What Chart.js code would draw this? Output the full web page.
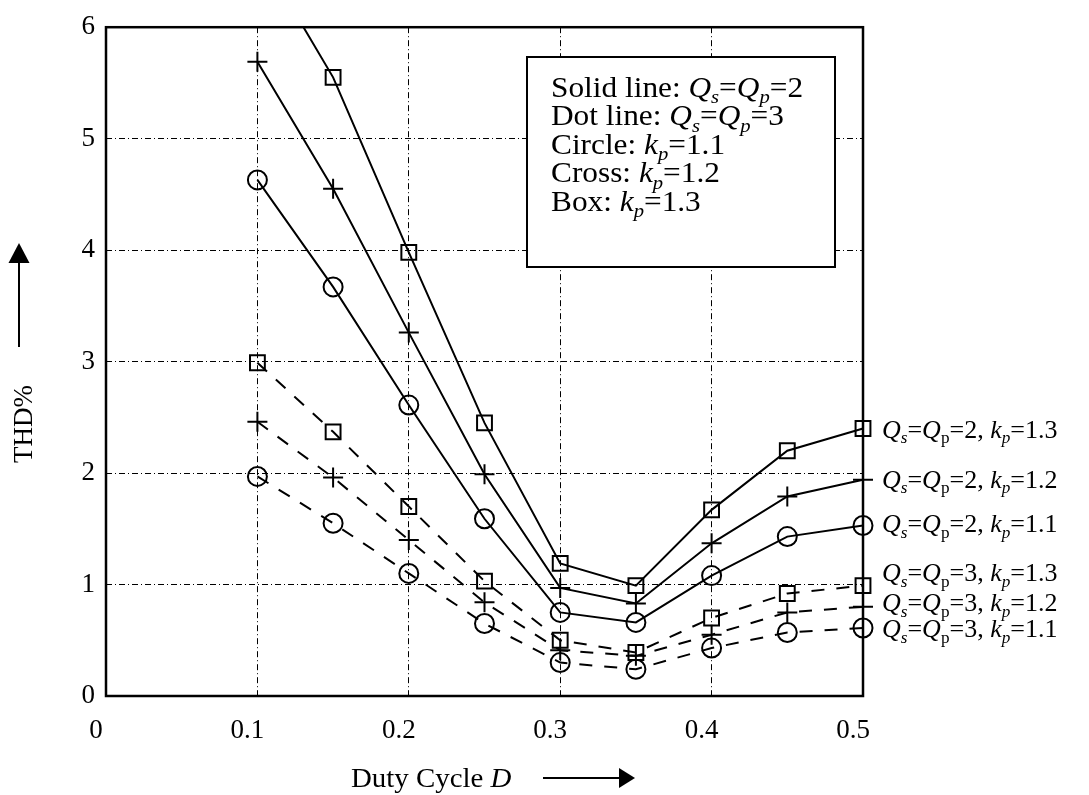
<!DOCTYPE html>
<html>
<head>
<meta charset="utf-8">
<title>THD% vs Duty Cycle</title>
<script src="https://cdn.jsdelivr.net/npm/chart.js@4/dist/chart.umd.min.js"></script>
<style>
  html, body { margin: 0; padding: 0; background: #fff; }
  #wrap { width: 1089px; height: 795px; }
</style>
</head>
<body>
<div id="wrap"><canvas id="thdChart" width="1089" height="795"></canvas></div>
<script>
// Duty cycle D where each curve was evaluated
let duty = [0.1, 0.15, 0.2, 0.25, 0.3, 0.35, 0.4, 0.45, 0.5];

// THD% with Qs = Qp = 2 (solid lines)
let q2k13 = [6.7, 5.55, 3.98, 2.45, 1.19, 0.99, 1.67, 2.20, 2.40];
let q2k12 = [5.69, 4.55, 3.26, 1.99, 0.97, 0.83, 1.37, 1.79, 1.94];
let q2k11 = [4.63, 3.67, 2.61, 1.59, 0.75, 0.66, 1.08, 1.43, 1.53];

// THD% with Qs = Qp = 3 (dashed lines)
let q3k13 = [2.99, 2.37, 1.70, 1.03, 0.50, 0.39, 0.70, 0.92, 0.99];
let q3k12 = [2.46, 1.96, 1.40, 0.84, 0.41, 0.36, 0.55, 0.75, 0.80];
let q3k11 = [1.97, 1.55, 1.10, 0.65, 0.30, 0.24, 0.43, 0.57, 0.61];

// axis ticks
let xTicks = [0, 0.1, 0.2, 0.3, 0.4, 0.5];
let yTicks = [0, 1, 2, 3, 4, 5, 6];

// curve names written at the right end, with the THD% level of each
let curveQ = ["2", "2", "2", "3", "3", "3"];
let curveK = ["1.3", "1.2", "1.1", "1.3", "1.2", "1.1"];
let curveLevel = [2.39, 1.94, 1.54, 1.10, 0.83, 0.60];

const SERIF = '"Liberation Serif", "Times New Roman", serif';

// a run of text pieces: [text, flags] where flags has i = italic, s = subscript
function drawRich(ctx, parts, x, y, size, stretch) {
    ctx.save();
    ctx.translate(x, y);
    ctx.scale(stretch, 1);
    ctx.fillStyle = "#000";
    ctx.textBaseline = "alphabetic";
    ctx.textAlign = "left";
    let cx = 0;
    for (let p of parts) {
        let flags = p[1] || "";
        let sub = flags.indexOf("s") >= 0;
        let fs = sub ? size * 0.66 : size;
        ctx.font = (flags.indexOf("i") >= 0 ? "italic " : "") + fs + "px " + SERIF;
        ctx.fillText(p[0], cx, sub ? size * 0.22 : 0);
        cx += ctx.measureText(p[0]).width;
    }
    ctx.restore();
}

function arrow(ctx, x1, y1, x2, y2, head, half) {
    let a = Math.atan2(y2 - y1, x2 - x1);
    let bx = x2 - head * Math.cos(a), by = y2 - head * Math.sin(a);
    ctx.beginPath();
    ctx.moveTo(x1, y1);
    ctx.lineTo(bx, by);
    ctx.stroke();
    ctx.beginPath();
    ctx.moveTo(x2, y2);
    ctx.lineTo(bx + half * Math.sin(a), by - half * Math.cos(a));
    ctx.lineTo(bx - half * Math.sin(a), by + half * Math.cos(a));
    ctx.closePath();
    ctx.fill();
}

// frame round the plot area
const framePlugin = {
    id: "frame",
    beforeDatasetsDraw(chart) {
        let a = chart.chartArea, ctx = chart.ctx;
        ctx.save();
        ctx.strokeStyle = "#000";
        ctx.lineWidth = 2.5;
        ctx.strokeRect(a.left, a.top, a.right - a.left, a.bottom - a.top);
        ctx.restore();
    }
};

// legend box, curve labels and axis titles with arrows
const notesPlugin = {
    id: "notes",
    afterDraw(chart) {
        let ctx = chart.ctx;
        let y = chart.scales.y;
        let a = chart.chartArea;

        ctx.save();
        ctx.fillStyle = "#fff";
        ctx.fillRect(527, 57, 308, 210);
        ctx.strokeStyle = "#000";
        ctx.lineWidth = 2;
        ctx.strokeRect(527, 57, 308, 210);
        ctx.restore();

        let legendLines = [
            [["Solid line: "], ["Q", "i"], ["s", "is"], ["="], ["Q", "i"], ["p", "is"], ["=2"]],
            [["Dot line: "], ["Q", "i"], ["s", "is"], ["="], ["Q", "i"], ["p", "is"], ["=3"]],
            [["Circle: "], ["k", "i"], ["p", "is"], ["=1.1"]],
            [["Cross: "], ["k", "i"], ["p", "is"], ["=1.2"]],
            [["Box: "], ["k", "i"], ["p", "is"], ["=1.3"]]
        ];
        legendLines.forEach((parts, i) => drawRich(ctx, parts, 551, 97 + i * 28.4, 29, 1.08));

        curveLevel.forEach((lv, i) => {
            let parts = [["Q", "i"], ["s", "is"], ["="], ["Q", "i"], ["p", "s"],
                         ["=" + curveQ[i] + ", "], ["k", "i"], ["p", "is"], ["=" + curveK[i]]];
            drawRich(ctx, parts, a.right + 19, y.getPixelForValue(lv) + 8, 26, 1.0);
        });

        // x axis title
        drawRich(ctx, [["Duty Cycle "], ["D", "i"]], 351, 787, 27, 1.07);
        ctx.save();
        ctx.strokeStyle = "#000";
        ctx.fillStyle = "#000";
        ctx.lineWidth = 2;
        arrow(ctx, 543, 778, 635, 778, 16, 10);

        // y axis title
        ctx.save();
        ctx.translate(32, 463);
        ctx.rotate(-Math.PI / 2);
        drawRich(ctx, [["THD%"]], 0, 0, 27, 1.0);
        ctx.restore();
        arrow(ctx, 19, 347, 19, 243, 20, 10.5);
        ctx.restore();
    }
};

function series(values, style, dashed) {
    return {
        data: values.map((v, i) => ({ x: duty[i], y: v })),
        borderColor: "#000",
        borderWidth: 2,
        borderDash: dashed ? [13, 12] : [],
        pointStyle: style,
        pointRadius: style === "rect" ? 10.5 : (style === "circle" ? 9.5 : 10),
        pointBorderColor: "#000",
        pointBackgroundColor: "rgba(0,0,0,0)",
        pointBorderWidth: 2,
        tension: 0,
        clip: { left: 14, top: 0, right: 16, bottom: 14 }
    };
}

Chart.defaults.font.family = SERIF;
Chart.defaults.color = "#000";

new Chart(document.getElementById("thdChart").getContext("2d"), {
    type: "line",
    data: {
        datasets: [
            series(q2k13, "rect", false),
            series(q2k12, "cross", false),
            series(q2k11, "circle", false),
            series(q3k13, "rect", true),
            series(q3k12, "cross", true),
            series(q3k11, "circle", true)
        ]
    },
    options: {
        responsive: false,
        animation: false,
        events: [],
        layout: { padding: { left: 0, top: 20, right: 226, bottom: 0 } },
        plugins: { legend: { display: false }, tooltip: { enabled: false } },
        scales: {
            x: {
                type: "linear",
                min: 0,
                max: 0.5,
                afterBuildTicks: s => { s.ticks = xTicks.map(v => ({ value: v })); },
                afterFit: s => { s.height = 99; },
                ticks: {
                    font: { size: 27 },
                    padding: 19,
                    labelOffset: -10,
                    maxRotation: 0,
                    callback: v => (v === 0 ? "0" : v.toFixed(1))
                },
                grid: { color: "#000", lineWidth: 1, drawTicks: false },
                border: { display: false, dash: [6, 3, 1, 3] }
            },
            y: {
                min: 0,
                max: 6,
                afterBuildTicks: s => { s.ticks = yTicks.map(v => ({ value: v })); },
                afterFit: s => { s.width = 106; },
                ticks: {
                    font: { size: 27 },
                    padding: 11,
                    callback: v => String(v)
                },
                grid: { color: "#000", lineWidth: 1, drawTicks: false },
                border: { display: false, dash: [6, 3, 1, 3] }
            }
        }
    },
    plugins: [framePlugin, notesPlugin]
});
</script>
</body>
</html>
